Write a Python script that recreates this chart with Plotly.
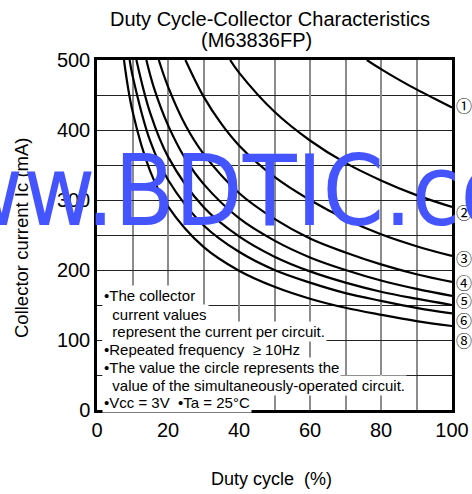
import plotly.graph_objects as go

# ---- data ----
duty_1 = [76, 80, 85, 90, 95, 100]
ic_1 = [500, 487, 472, 458, 445, 432]
duty_2 = [37.5, 40, 50, 60, 70, 80, 90, 100]
ic_2 = [500, 482, 426, 385, 353, 328, 307, 290]
duty_3 = [24.9, 30, 35, 40, 50, 60, 70, 80, 90, 100]
ic_3 = [500, 448, 409, 378, 333, 300, 273, 251, 234, 220]
duty_4 = [17.4, 20, 25, 30, 40, 50, 60, 70, 80, 90, 100]
ic_4 = [500, 462, 406, 366, 310, 273, 245, 225, 208, 194, 183]
duty_5 = [13.9, 16, 20, 25, 30, 40, 50, 60, 70, 80, 90, 100]
ic_5 = [500, 461, 407, 358, 323, 274, 242, 218, 200, 185, 173, 163]
duty_6 = [11.1, 15, 20, 30, 40, 50, 60, 70, 80, 90, 100]
ic_6 = [500, 424, 362, 290, 248, 219, 198, 182, 169, 159, 150]
duty_7 = [9.2, 10, 15, 20, 30, 40, 50, 60, 70, 80, 90, 100]
ic_7 = [500, 478, 384, 329, 264, 226, 200, 182, 167, 156, 146, 138]
duty_8 = [7.6, 10, 15, 20, 30, 40, 50, 60, 70, 80, 90, 100]
ic_8 = [500, 427, 341, 291, 233, 199, 176, 159, 146, 136, 127, 120]

curves = [(duty_1, ic_1), (duty_2, ic_2), (duty_3, ic_3), (duty_4, ic_4),
          (duty_5, ic_5), (duty_6, ic_6), (duty_7, ic_7), (duty_8, ic_8)]

label_text = ["①", "②", "③", "④", "⑤", "⑥", "⑧"]
label_ic = [436, 283, 217, 183, 157, 129, 100]

note_lines = [
    "•The collector",
    "\u00a0\u00a0current values",
    "\u00a0\u00a0represent the current per circuit.",
    "•Repeated frequency \u00a0≥ 10Hz",
    "•The value the circle represents the",
    "\u00a0\u00a0value of the simultaneously-operated circuit.",
    "•Vcc = 3V \u00a0•Ta = 25°C",
]
note_ic = [163, 137, 111.5, 86, 61, 35.5, 11]

title_1 = "Duty Cycle-Collector Characteristics"
title_2 = "(M63836FP)"
x_title = "Duty cycle \u00a0(%)"
y_title = "Collector current Ic (mA)"
watermark = "www.BDTIC.com"

FONT = "Liberation Sans, Arial, Helvetica, sans-serif"

fig = go.Figure()
for dx, dy in curves:
    fig.add_trace(go.Scatter(x=dx, y=dy, mode="lines",
                             line=dict(color="black", width=2.2, shape="spline", smoothing=1.0),
                             showlegend=False, hoverinfo="skip"))

annotations = []
for t, yv in zip(label_text, label_ic):
    annotations.append(dict(x=(464 - 97) / 355, xref="paper", y=yv, yref="y", text=t,
                            showarrow=False, xanchor="center", yanchor="middle",
                            font=dict(family="Noto Sans CJK JP, DejaVu Sans", size=16, color="black")))
for t, yv in zip(note_lines, note_ic):
    annotations.append(dict(x=0.013, xref="paper", y=yv, yref="y", text=t, showarrow=False,
                            xanchor="left", yanchor="middle", bgcolor="white", borderpad=1,
                            font=dict(family=FONT, size=15, color="black")))
annotations += [
    dict(x=(270 - 97) / 355, xref="paper", y=(410 - 19) / 350, yref="paper", text=title_1,
         showarrow=False, xanchor="center", yanchor="middle",
         font=dict(family=FONT, size=20, color="black")),
    dict(x=(256 - 97) / 355, xref="paper", y=(410 - 40) / 350, yref="paper", text=title_2,
         showarrow=False, xanchor="center", yanchor="middle",
         font=dict(family=FONT, size=20, color="black")),
    dict(x=(271 - 97) / 355, xref="paper", y=-(479 - 410) / 350, yref="paper", text=x_title,
         showarrow=False, xanchor="center", yanchor="middle",
         font=dict(family=FONT, size=18, color="black")),
    dict(x=(21 - 97) / 355, xref="paper", y=(410 - 238) / 350, yref="paper", text=y_title,
         showarrow=False, textangle=-90, xanchor="center", yanchor="middle",
         font=dict(family=FONT, size=18.5, color="black")),
    dict(x=0.40, xref="paper", y=313, yref="y", text=watermark, showarrow=False,
         xanchor="center", yanchor="middle",
         font=dict(family="Liberation Sans Narrow, DejaVu Sans Condensed, Liberation Sans", size=98,
                   color="#4455ff")),
]

fig.update_layout(
    width=456, height=478,
    margin=dict(l=97, r=20, t=60, b=84, autoexpand=False),
    paper_bgcolor="white", plot_bgcolor="white",
    showlegend=False,
    annotations=annotations,
    font=dict(family=FONT, color="black"),
    xaxis=dict(range=[0, 100], tick0=0, dtick=20, ticks="", showgrid=True,
               gridcolor="#8c8c8c", gridwidth=1.5,
               minor=dict(dtick=10, showgrid=True, gridcolor="#8c8c8c", gridwidth=1.5),
               showline=True, mirror=True, linecolor="black", linewidth=2.5,
               zeroline=False, ticklabeloverflow="allow", automargin=False,
               tickfont=dict(size=20, family=FONT)),
    yaxis=dict(range=[0, 500], tick0=0, dtick=100, ticks="", showgrid=True,
               gridcolor="#222222", gridwidth=1,
               minor=dict(dtick=50, showgrid=True, gridcolor="#222222", gridwidth=1),
               showline=True, mirror=True, linecolor="black", linewidth=2.5,
               zeroline=False, automargin=False,
               tickfont=dict(size=20, family=FONT)),
)

fig.write_html(
    "out.html",
    config={"responsive": False, "displayModeBar": False},
    post_script=("document.documentElement.style.overflow='hidden';"
                 "document.body.style.margin='0';"
                 "document.body.style.overflow='hidden';"
                 "Plotly.relayout(document.getElementById('{plot_id}'), {width: 472, height: 494});"),
)
